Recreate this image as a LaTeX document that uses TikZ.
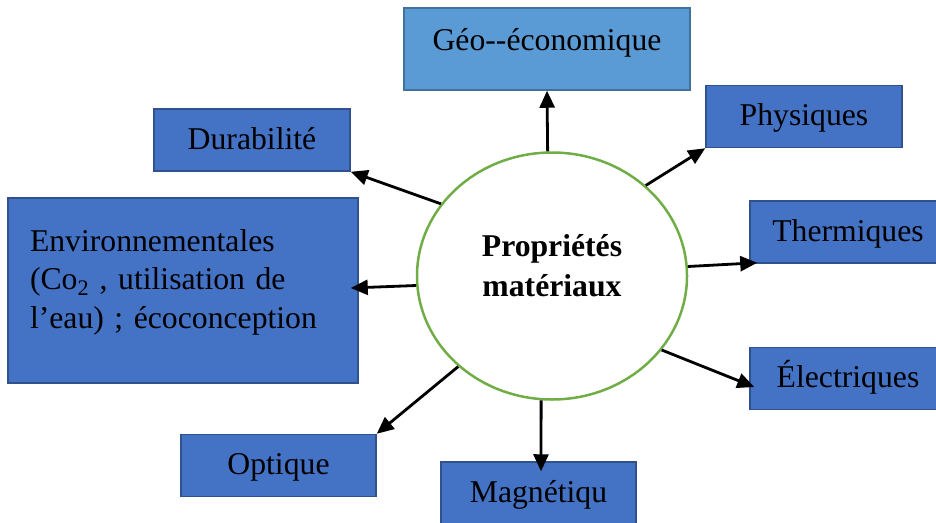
\documentclass[tikz,border=0pt]{standalone}
\usepackage{fontspec}
\setmainfont{Liberation Serif}
\usetikzlibrary{arrows.meta, shapes.geometric}
\definecolor{boxblue} {HTML}{4472C4}
\definecolor{boxedge} {HTML}{2F528F}
\definecolor{geoblue} {HTML}{5B9BD5}
\definecolor{geoedge} {HTML}{41719C}
\definecolor{ring}    {HTML}{70AD47}

\begin{document}
\begin{tikzpicture}[x=1pt, y=-1pt,
    font=\fontsize{31.7pt}{38.5pt}\selectfont,
    propbox/.style={draw=boxedge, fill=boxblue, line width=1.5pt, inner sep=0pt,
      minimum width=196pt, minimum height=62pt, text height=23pt, text depth=5pt},
    link/.style={line width=2.8pt, -{Triangle[length=17pt, width=15pt]}}]
  \clip (0,0) rectangle (936,522);
  % centre
  \node[ellipse, draw=ring, line width=2.5pt, minimum width=270pt, minimum height=247pt,
    align=center, font=\fontsize{31.7pt}{40pt}\selectfont\bfseries] (c) at (552,276)
    {Propriétés\\matériaux\rule[-21pt]{0pt}{21pt}};
  % boxes
  \node[propbox, draw=geoedge, fill=geoblue, minimum width=286pt, minimum height=82pt,
    text depth=21pt] (geo) at (547,49) {Géo\mbox{-}\mbox{-}économique};
  \node[propbox] (phys)  at (804,116.5) {Physiques};
  \node[propbox] (therm) at (848,232)   {Thermiques};
  \node[propbox] (elec)  at (848,378.5) {Électriques};
  \node[propbox] (dur)   at (252,140)   {Durabilité};
  \node[propbox, minimum width=350pt, minimum height=185pt, inner xsep=22pt,
    text width=306pt, align=left, text height=, text depth=] (env) at (183,290.5)
    {Environnementales\\(Co\textsubscript{2} , utilisation de\\l’eau) ; écoconception\rule[-23.7pt]{0pt}{1pt}};
  \node[propbox, minimum width=195pt] (opt) at (278.5,465.5) {Optique};
  \node[propbox, minimum width=195pt] (mag) at (538.5,493)   {Magnétiqu};
  % arrows
  \draw[link] (c.92)    -- (geo.south);
  \draw[link] (c.44)    -- (phys.south west);
  \draw[link] (c.4.6)   -- ([xshift=8pt, yshift=1pt]therm.south west);
  \draw[link] (c.-34)   -- ([xshift=5pt, yshift=-8.5pt]elec.west);
  \draw[link] (c.-95)   -- ([xshift=2.5pt, yshift=-10pt]mag.north);
  \draw[link] (c.-136)  -- (opt.north east);
  \draw[link] (c.184.6) -- ([xshift=-8pt, yshift=2.5pt]env.east);
  \draw[link] (c.147)   -- (dur.south east);
\end{tikzpicture}
\end{document}
